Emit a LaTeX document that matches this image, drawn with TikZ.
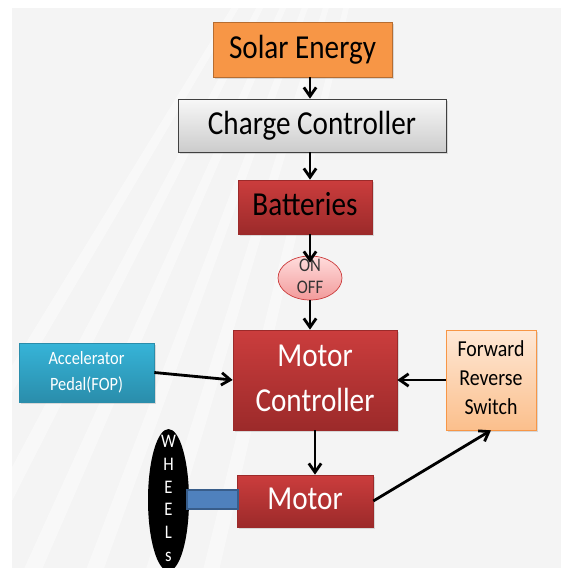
\documentclass[tikz,border=0pt]{standalone}
\usepackage{fontspec}
\setmainfont{Carlito}
\usepackage{graphicx}
\usepackage{tikz}
\usetikzlibrary{shapes,arrows.meta,positioning,calc,shadows}

\definecolor{solarorange}{HTML}{F79646}
\definecolor{solarline}{HTML}{B66D31}
\definecolor{batred}{HTML}{CB3D3D}
\definecolor{batdark}{HTML}{9C2A2A}
\definecolor{pedaltop}{HTML}{36B4D8}
\definecolor{pedalbot}{HTML}{2A8DAB}
\definecolor{switchtop}{HTML}{FEE8D6}
\definecolor{switchbot}{HTML}{FBBF8C}
\definecolor{shaftblue}{HTML}{4F81BD}
\definecolor{shaftline}{HTML}{385D8A}
\definecolor{bggray}{HTML}{F4F4F4}
\definecolor{pinktop}{HTML}{FFDCDC}
\definecolor{pinkbot}{HTML}{F29A9A}

% slightly tall lettering, as in the slide
\newcommand{\tallstack}[1]{\scalebox{1}[1.15]{\begin{tabular}{@{}c@{}}#1\end{tabular}}}

\begin{document}
\begin{tikzpicture}[x=0.02cm, y=-0.02cm,
    softshadow/.style={drop shadow={shadow xshift=1pt, shadow yshift=-1pt, opacity=0.25}},
    block/.style={rectangle, inner sep=0pt, align=center, font=\fontsize{16.6}{22.2}\selectfont, softshadow},
    redblock/.style={block, top color=batred, bottom color=batdark, draw=batdark},
    arrow/.style={->, >={Straight Barb[length=5pt,width=7pt]}, line width=1.6pt}
]

% Background
\useasboundingbox (0,0) rectangle (561,568);
\begin{scope}
\clip (12,8) rectangle (561,568);
\fill[bggray] (12,8) rectangle (561,568);
\foreach \a in {103,106.5,...,121}
    \fill[white, opacity=0.45] (420,-300) -- +(\a:1100) -- +(\a+1:1100) -- cycle;
\end{scope}

% Supply side
\node[block, fill=solarorange, draw=solarline, minimum width=3.58cm, minimum height=1.1cm] (solar) at (302.5,49.5) {\tallstack{Solar Energy}};
\node[block, top color=gray!6, bottom color=gray!40, draw=black!75, minimum width=5.36cm, minimum height=1.06cm] (charge) at (312,125.5) {\tallstack{Charge Controller}};
\node[redblock, minimum width=2.68cm, minimum height=1.08cm] (batt) at (305,207) {\tallstack{Batteries}};
\node[ellipse, top color=pinktop, bottom color=pinkbot, draw=batred, minimum width=1.28cm, minimum height=0.88cm, inner xsep=0pt, inner ysep=-5pt, font=\fontsize{9.5}{11.3}\selectfont, text=black!80] (onoff) at (310,278) {\tallstack{ON\\OFF}};

% Drive side
\node[redblock, text=white, minimum width=3.28cm, minimum height=2cm] (mc) at (315,380) {\tallstack{Motor\\Controller}};
\node[block, top color=pedaltop, bottom color=pedalbot, draw=pedalbot, text=white, font=\fontsize{9.3}{12.8}\selectfont, minimum width=2.7cm, minimum height=1.18cm] (pedal) at (86.5,372.5) {\tallstack{Accelerator\\Pedal(FOP)}};
\node[block, top color=switchtop, bottom color=switchbot, draw=solarorange, font=\fontsize{11.3}{14.3}\selectfont, minimum width=1.8cm, minimum height=2cm] (switch) at (491,380) {\tallstack{Forward\\Reverse\\Switch}};
\node[redblock, text=white, minimum width=2.72cm, minimum height=1.04cm] (motor) at (305,501) {\tallstack{Motor}};
\node[ellipse, fill=black, text=white, minimum width=0.82cm, minimum height=2.84cm, inner xsep=0pt, inner ysep=-12pt, font=\fontsize{9.5}{11.3}\selectfont] (wheels) at (168.5,500) {\tallstack{W\\H\\E\\E\\L\\s}};
\node[rectangle, fill=shaftblue, draw=shaftline, line width=0.8pt, minimum width=1.02cm, minimum height=0.38cm, inner sep=0pt] (shaft) at (212.5,499.5) {};

% Arrows
\draw[arrow] (solar.south -| onoff) -- (charge.north -| onoff);
\draw[arrow] (charge.south -| onoff) -- (batt.north -| onoff);
\draw[arrow, shorten >=-0.14cm] (batt.south -| onoff) -- (onoff.north);
\draw[arrow] (onoff.south) -- (onoff.south |- mc.north);
\draw[arrow] (pedal.east) -- (mc.west);
\draw[arrow] (switch.west) -- (switch.west -| mc.east);
\draw[arrow] (mc.south) -- (mc.south |- motor.north);
\draw[arrow] (motor.east) -- (switch.south);

\end{tikzpicture}
\end{document}
